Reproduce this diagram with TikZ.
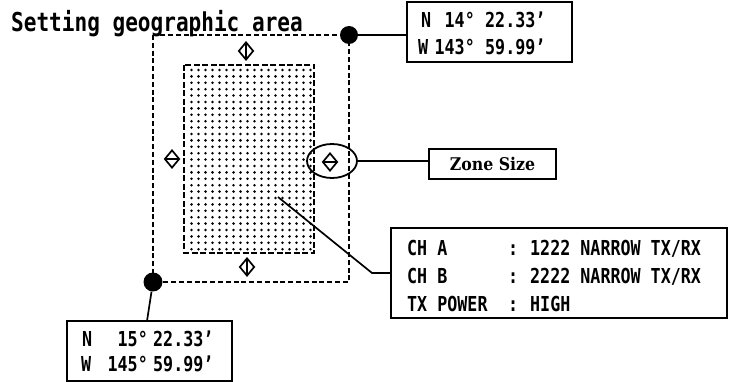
\documentclass[tikz,border=0pt]{standalone}
\usepackage{fontspec}
\usetikzlibrary{shapes.geometric,calc}
\newfontfamily\gothic[FakeStretch=0.81]{DejaVu Sans Mono}
\newfontfamily\zonefont{DejaVu Serif Condensed}
\begin{document}
\begin{tikzpicture}[x=1pt,y=-1pt,
  dline/.style={line width=2.2pt, dash pattern=on 5pt off 2.8pt},
  idline/.style={line width=2pt, dash pattern=on 6pt off 2.5pt},
  conn/.style={line width=1.7pt},
  gt/.style={font=\gothic\bfseries\fontsize{20.6}{24}\selectfont, inner sep=0pt, anchor=base west},
  gte/.style={gt, anchor=base east},
  box/.style={draw, rectangle, inner sep=0pt},
  bdot/.style={circle, fill=black, inner sep=0pt},
  dmd/.style={diamond, draw, line width=1.7pt, minimum width=15pt, minimum height=18pt, inner sep=0pt},
  dmdv/.style={dmd, path picture={\draw[line width=1.4pt] (path picture bounding box.north) -- (path picture bounding box.south);}},
  dmdh/.style={dmd, path picture={\draw[line width=1.4pt] (path picture bounding box.west) -- (path picture bounding box.east);}}]
\useasboundingbox[fill=white] (0,0) rectangle (729,382);

% inner stippled area
\foreach \i in {0,...,28}{
  \foreach \j in {0,...,17}{
    \fill ({191.5+\j*7},{70+\i*6.4}) circle[radius=1.4pt];
  }
}
\draw[idline] (184,65) rectangle (314,253);

% outer dashed area
\draw[dline] (153,35) rectangle (349,282);

% title
\node[gt, font=\gothic\bfseries\fontsize{26}{30}\selectfont] (title) at (11,32) {Setting geographic area};

% diamonds
\node[dmdv] (dT) at (246,51) {};
\node[dmdh] (dL) at (172,159) {};
\node[dmdh] (dR) at (330,162) {};
\node[dmdv] (dB) at (247,267) {};
\node[ellipse, draw, line width=1.8pt, minimum width=50pt, minimum height=34pt, inner sep=0pt] (ell) at (332,161) {};

% boxes
\node[box, line width=2.4pt, minimum width=165pt, minimum height=60pt] (tr) at (489.5,32) {};
\node[box, line width=1.9pt, minimum width=165pt, minimum height=60pt] (bl) at (149.5,351) {};
\node[box, line width=1.9pt, minimum width=127pt, minimum height=30pt, font=\zonefont\bfseries\fontsize{17.5}{20}\selectfont] (zone) at (492.5,164) {Zone Size};
\node[box, line width=2.4pt, minimum width=336pt, minimum height=90pt] (ch) at (559,273) {};

% black dots
\node[bdot, minimum size=18pt] (dot1) at (349,35) {};
\node[bdot, minimum size=19pt] (dot2) at (153,282) {};

% connectors
\draw[conn] (dot1) -- (dot1 -| tr.west);
\coordinate (bltop) at (147,321);
\draw[conn] (dot2) -- (bltop);
\draw[conn] (ell.east) -- (ell.east -| zone.west);
\coordinate (ptr) at (278,197);
\coordinate (bend) at (372,273);
\draw[conn] (ptr) -- (bend) -- (bend -| ch.west);

% top right box text
\node[gt] (trN) at (421,28) {N};
\node[gte] (trNd) at (475,28) {14°};
\node[gt] (trNm) at (485,28) {22.33’};
\node[gt] (trW) at (418,55) {W};
\node[gte] (trWd) at (475,55) {143°};
\node[gt] (trWm) at (485,55) {59.99’};

% bottom left box text
\node[gt] (blN) at (82,347) {N};
\node[gte] (blNd) at (148,347) {15°};
\node[gt] (blNm) at (153,347) {22.33’};
\node[gt] (blW) at (81,372) {W};
\node[gte] (blWd) at (148,372) {145°};
\node[gt] (blWm) at (153,372) {59.99’};

% channel box text
\node[gt] (chA) at (407,256) {CH A};
\node[gt] (chAc) at (508,256) {:};
\node[gt] (chAv) at (530,256) {1222 NARROW TX/RX};
\node[gt] (chB) at (407,284) {CH B};
\node[gt] (chBc) at (508,284) {:};
\node[gt] (chBv) at (530,284) {2222 NARROW TX/RX};
\node[gt] (txp) at (407,312) {TX POWER};
\node[gt] (txpc) at (508,312) {:};
\node[gt] (txpv) at (530,312) {HIGH};
\end{tikzpicture}
\end{document}
